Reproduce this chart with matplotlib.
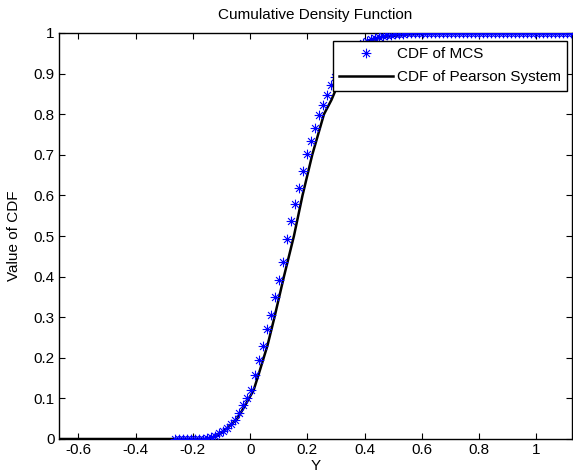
import matplotlib
matplotlib.use('Agg')
import matplotlib.pyplot as plt
from matplotlib.path import Path
import numpy as np

# ======================== data ========================
# MCS empirical CDF (asterisks)
mcs_x = [-0.263, -0.249, -0.235, -0.221, -0.207, -0.193, -0.179, -0.165, -0.151, -0.137,
         -0.123, -0.109, -0.095, -0.081, -0.067, -0.053, -0.039, -0.025, -0.011, 0.002,
         0.016, 0.030, 0.044, 0.058, 0.072, 0.086, 0.100, 0.114, 0.128, 0.142,
         0.156, 0.170, 0.184, 0.198, 0.212, 0.226, 0.240, 0.254, 0.268, 0.282,
         0.296, 0.310, 0.324, 0.338, 0.352, 0.366, 0.380, 0.394, 0.408, 0.422,
         0.436, 0.450, 0.464, 0.478, 0.492, 0.506, 0.520, 0.534, 0.548, 0.561,
         0.575, 0.589, 0.603, 0.617, 0.631, 0.645, 0.659, 0.673, 0.687, 0.701,
         0.715, 0.729, 0.743, 0.757, 0.771, 0.785, 0.799, 0.813, 0.827, 0.841,
         0.855, 0.869, 0.883, 0.897, 0.910, 0.924, 0.938, 0.952, 0.966, 0.980,
         0.994, 1.008, 1.022, 1.036, 1.050, 1.064, 1.078, 1.092, 1.106, 1.120]
mcs_y = [0.0, 0.0, 0.0, 0.0, 0.0, 0.0, 0.0, 0.001, 0.002, 0.004,
         0.008, 0.015, 0.019, 0.027, 0.036, 0.048, 0.063, 0.083, 0.101, 0.121,
         0.158, 0.195, 0.229, 0.270, 0.305, 0.349, 0.391, 0.436, 0.492, 0.536,
         0.580, 0.618, 0.659, 0.701, 0.733, 0.765, 0.797, 0.823, 0.848, 0.871,
         0.892, 0.911, 0.928, 0.941, 0.952, 0.961, 0.969, 0.975, 0.980, 0.985,
         0.988, 0.991, 0.993, 0.995, 0.996, 0.997, 0.998, 0.998, 0.999, 0.999,
         0.999, 0.999, 0.999, 1.0, 1.0, 1.0, 1.0, 1.0, 1.0, 1.0,
         1.0, 1.0, 1.0, 1.0, 1.0, 1.0, 1.0, 1.0, 1.0, 1.0,
         1.0, 1.0, 1.0, 1.0, 1.0, 1.0, 1.0, 1.0, 1.0, 1.0,
         1.0, 1.0, 1.0, 1.0, 1.0, 1.0, 1.0, 1.0, 1.0, 1.0]

# Pearson system CDF (black line)
pearson_x = [-0.668, -0.150, -0.125, -0.100, -0.075, -0.045, -0.020, 0.012, 0.030, 0.061,
             0.085, 0.118, 0.153, 0.183, 0.217, 0.258, 0.284, 0.296, 0.320, 0.365,
             0.415, 0.460, 0.557, 0.650, 1.123]
pearson_y = [0.0, 0.0, 0.005, 0.015, 0.030, 0.050, 0.080, 0.120, 0.160, 0.2315,
             0.300, 0.400, 0.500, 0.600, 0.700, 0.800, 0.835, 0.855, 0.900, 0.950,
             0.980, 0.990, 0.997, 1.0, 1.0]

xticks = [-0.6, -0.4, -0.2, 0, 0.2, 0.4, 0.6, 0.8, 1]
yticks = [0, 0.1, 0.2, 0.3, 0.4, 0.5, 0.6, 0.7, 0.8, 0.9, 1]

# ============================== plotting =====================================
plt.rcParams['font.family'] = ['Liberation Sans', 'DejaVu Sans']
plt.rcParams['font.size'] = 11

# MATLAB style '*' marker: plus and cross strokes
d = 0.7071
asterisk = Path([(-1, 0), (1, 0), (0, -1), (0, 1), (-d, -d), (d, d), (-d, d), (d, -d)],
                [Path.MOVETO, Path.LINETO] * 4)

fig = plt.figure(figsize=(5.73, 4.75), dpi=100)
ax = fig.add_axes([59 / 573, (475 - 439) / 475, (571.5 - 59) / 573, (439 - 33) / 475])

ax.plot(mcs_x, mcs_y, linestyle='none', marker=asterisk, color=(0, 0, 1), markersize=7,
        markeredgewidth=0.8, fillstyle='none', label='CDF of MCS', zorder=3)
ax.plot(pearson_x, pearson_y, '-', color='k', lw=1.8, label='CDF of Pearson System', zorder=2)

ax.set_xlim(-0.668, 1.123)
ax.set_ylim(0, 1)
ax.set_xticks(xticks)
ax.set_xticklabels(['-0.6', '-0.4', '-0.2', '0', '0.2', '0.4', '0.6', '0.8', '1'])
ax.set_yticks(yticks)
ax.set_yticklabels(['0', '0.1', '0.2', '0.3', '0.4', '0.5', '0.6', '0.7', '0.8', '0.9', '1'])
ax.tick_params(direction='in', top=True, right=True, length=4, width=0.8, pad=3)
for s in ax.spines.values():
    s.set_linewidth(1.0)

ax.set_title('Cumulative Density Function', fontsize=11, pad=10)
ax.set_xlabel('Y', labelpad=1.5)
ax.set_ylabel('Value of CDF', labelpad=9)

leg = ax.legend(loc='upper right', bbox_to_anchor=(0.992, 0.980), fancybox=False,
                framealpha=1, edgecolor='k', handlelength=3.5, handletextpad=0.3,
                borderpad=0.4, labelspacing=0.6, borderaxespad=0)
leg.get_frame().set_linewidth(1.0)
leg.set_zorder(5)

fig.savefig('out.png', dpi=100)
